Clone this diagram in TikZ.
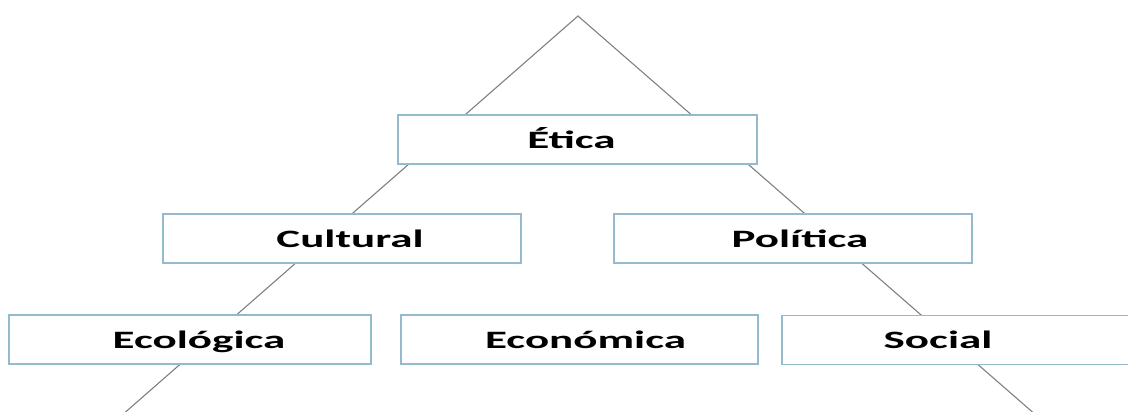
\documentclass[tikz,border=0pt]{standalone}
\usepackage{fontspec}
\setmainfont{Carlito}
\usepackage{graphicx}
\definecolor{boxline}{RGB}{150,186,205}
\definecolor{linegray}{RGB}{128,128,128}
\newcommand{\wide}[1]{\scalebox{1.8}[1]{\bfseries #1}}
\tikzset{
  levelbox/.style={draw=boxline, line width=1.6pt, fill=white, minimum height=49pt,
    inner sep=0pt, text height=21pt, text depth=4pt,
    font=\fontsize{25}{29}\selectfont, text=black},
  sideline/.style={draw=linegray, line width=1.1pt}
}
\begin{document}
\begin{tikzpicture}[x=1pt,y=-1pt]
\useasboundingbox (0,0) rectangle (1128,412);
\clip (0,0) rectangle (1128,412);
\coordinate (apex) at (578,16);
\coordinate (bl) at (121,416);
\coordinate (br) at (1037,416);
\draw[sideline] (bl) -- (apex) -- (br);
\node[levelbox, minimum width=359pt] (etica) at (577.5,139.5) {\hspace*{-12pt}\wide{Ética}};
\node[levelbox, minimum width=358pt] (cultural) at (342,238.5) {\hspace*{16pt}\wide{Cultural}};
\node[levelbox, minimum width=358pt] (politica) at (793,238.5) {\hspace*{14pt}\wide{Política}};
\node[levelbox, minimum width=362pt] (ecologica) at (190,339.5) {\hspace*{18pt}\wide{Ecológica}};
\node[levelbox, minimum width=357pt] (economica) at (579.5,339.5) {\hspace*{12pt}\wide{Económica}};
\node[levelbox, minimum width=358pt] (social) at (961,340) {\hspace*{-46pt}\wide{Social}};
\end{tikzpicture}
\end{document}
